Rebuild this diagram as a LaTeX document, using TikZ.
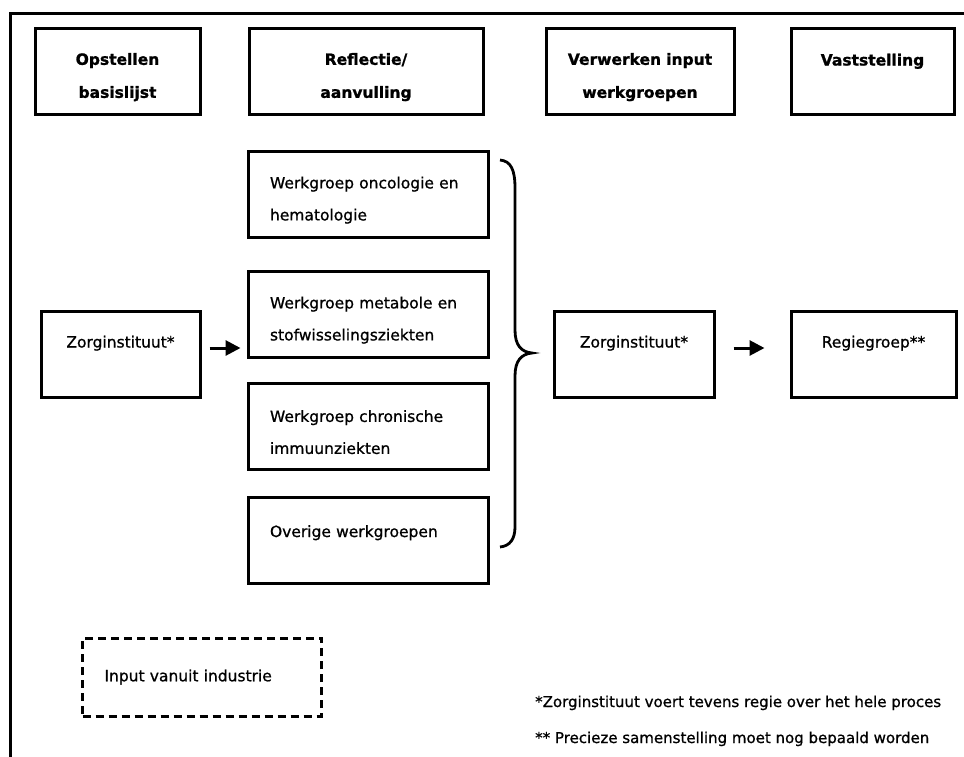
\documentclass[tikz,border=0pt]{standalone}
\usepackage{fontspec}
\setmainfont{DejaVu Sans}
\newfontfamily\headfont{DejaVu Sans}[BoldFeatures={FakeBold=1.2}]
\newfontfamily\bodyfont{DejaVu Sans}[FakeBold=0.9]
\usetikzlibrary{calc, positioning}
\usetikzlibrary{arrows.meta}

\begin{document}
\begin{tikzpicture}[x=1pt, y=-1pt,
  box/.style={draw, line width=3pt, inner sep=0pt},
  headbox/.style={box, align=center, minimum height=86pt,
    font=\fontsize{15.5}{33}\headfont\bfseries,
    execute at begin node={\rule{0pt}{24pt}}},
  groupbox/.style={box, align=left, text width=196pt, inner xsep=22pt,
    minimum height=86pt, font=\fontsize{15.5}{32}\bodyfont,
    execute at begin node={\rule{0pt}{24pt}}},
  actorbox/.style={box, align=center, minimum height=86pt,
    font=\fontsize{15.5}{32}\bodyfont},
  upper/.style={text height=12pt, text depth=25pt},
  dashbox/.style={draw, line width=3pt, dash pattern=on 8pt off 5pt,
    align=left, text width=195pt, inner xsep=22pt, inner ysep=0pt,
    minimum height=78pt, font=\fontsize{15.5}{32}\bodyfont},
  notetext/.style={anchor=base west, inner sep=0pt, font=\fontsize{15}{17}\bodyfont},
  flowarrow/.style={line width=3pt, -{Triangle[length=15pt, width=15pt]}}]
\useasboundingbox (0,0) rectangle (964,756);

\def\toprow{71}
\def\midrow{354}

\draw[line width=3pt] (10,770) |- (980,13);

\node[headbox, text width=165pt] (opstellen) at (117.5,\toprow) {Opstellen\\basislijst};
\node[headbox, text width=234pt] (reflectie) at (366,\toprow) {Reflectie/\\aanvulling};
\node[headbox, text width=188pt] (verwerken) at (640,\toprow) {Verwerken input\\werkgroepen};
\node[headbox, upper, text depth=23pt, text width=163pt] (vaststelling) at (872.5,\toprow) {Vaststelling};

\node[groupbox] (onco) at (368,194) {Werkgroep oncologie en\\hematologie};
\node[groupbox] (metab) at (368,314) {Werkgroep metabole en\\stofwisselingsziekten};
\node[groupbox] (immuun) at (368,426) {Werkgroep chronische\\immuunziekten};
\node[groupbox, text height=12pt, text depth=18pt] (overig) at (368,540) {Overige werkgroepen};

\node[actorbox, upper, minimum width=159pt] (zi1) at (120.5,\midrow) {Zorginstituut*};
\node[actorbox, upper, minimum width=160pt] (zi2) at (634,\midrow) {Zorginstituut*};
\node[actorbox, upper, minimum width=165pt] (regie) at (873.5,\midrow) {Regiegroep**};

\node[dashbox] (industrie) at (202,677) {Input vanuit industrie};

\node[notetext] (note1) at (535,707) {*Zorginstituut voert tevens regie over het hele proces};
\node[notetext] (note2) at (535,743) {** Precieze samenstelling moet nog bepaald worden};

\draw[flowarrow, shorten <=8pt, shorten >=6pt]
  ([yshift=6pt]zi1.east) -- ([yshift=6pt]zi1.east -| metab.west);
\draw[flowarrow, shorten <=18pt, shorten >=25pt]
  ([yshift=6pt]zi2.east) -- ([yshift=6pt]zi2.east -| regie.west);

\coordinate (brtop) at (500,160);
\coordinate (brtip) at (532,353);
\coordinate (brbot) at (500,547);
\draw[line width=2.8pt]
  (brtop) .. controls (511,161) and (515,170) .. (515,188) -- (515,330)
  .. controls (515,345) and (521,352) .. (brtip)
  .. controls (521,354) and (515,361) .. (515,376) -- (515,527)
  .. controls (515,539) and (510,546) .. (brbot);
\end{tikzpicture}
\end{document}
